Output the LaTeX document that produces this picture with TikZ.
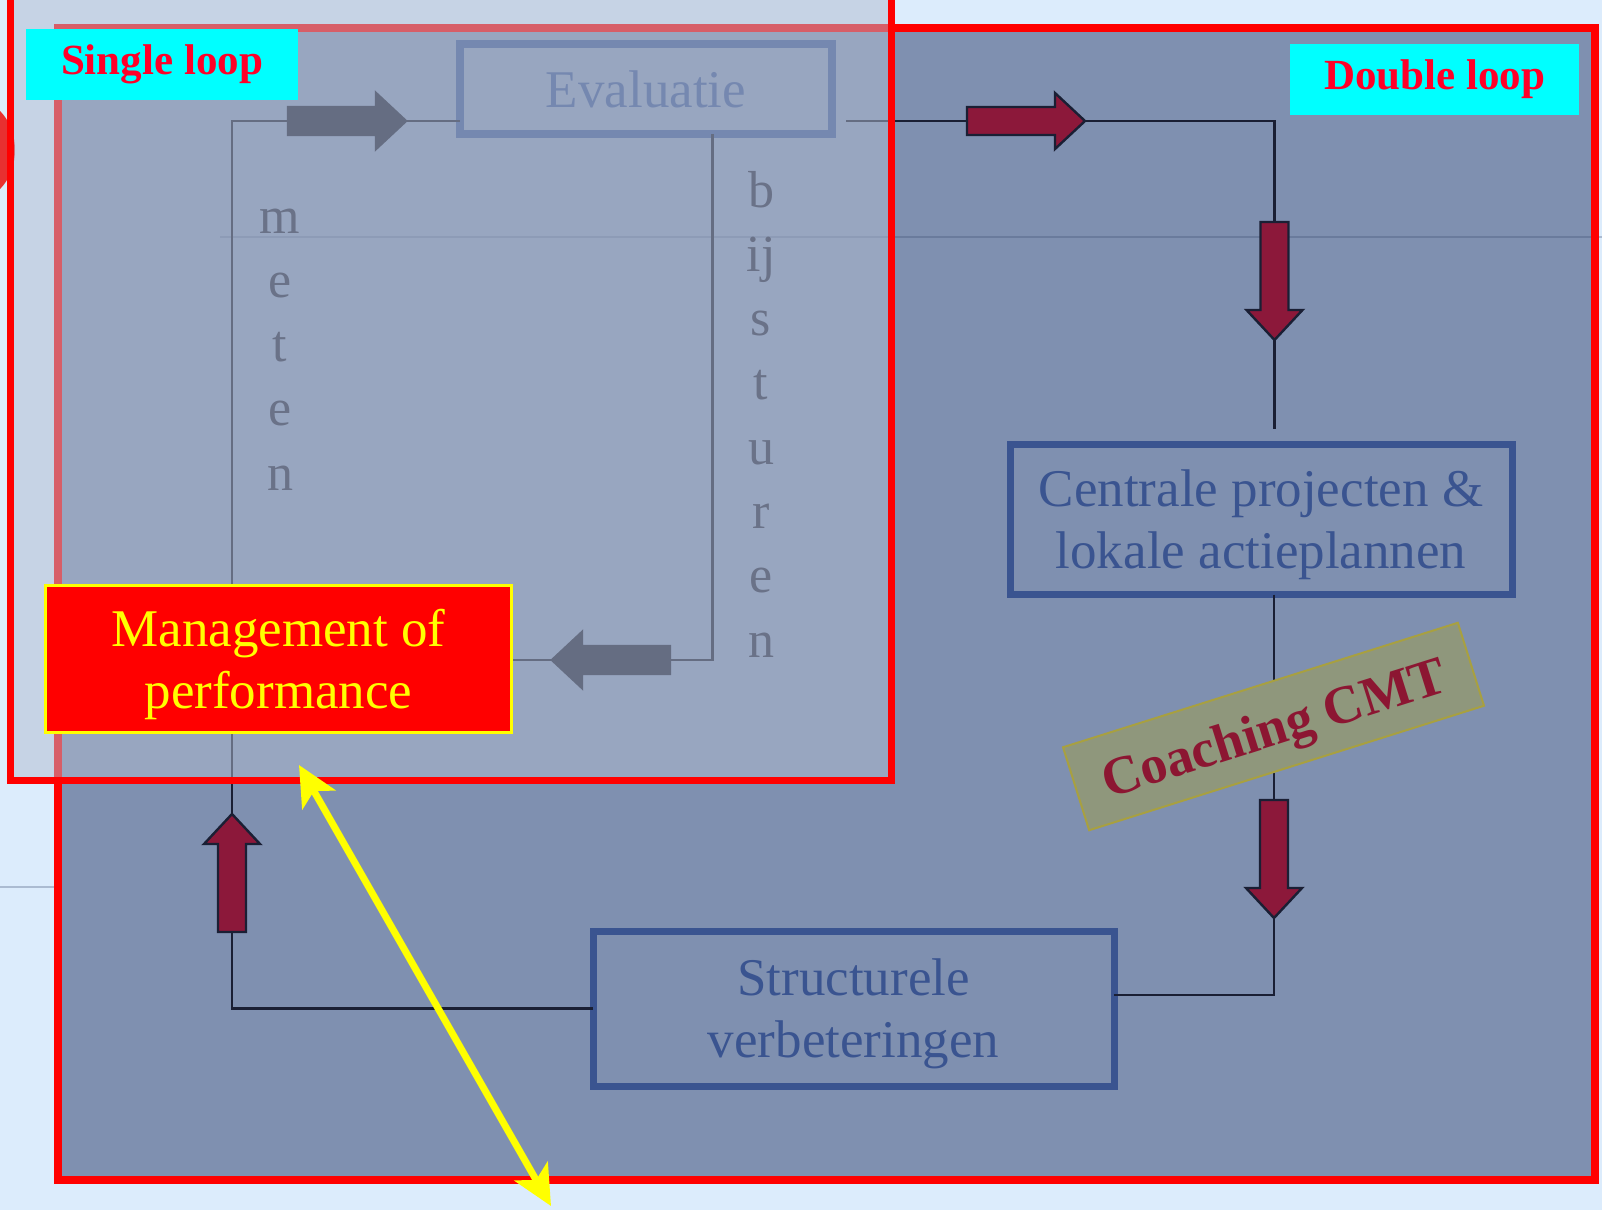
\documentclass[tikz,border=0pt]{standalone}
\usepackage{fontspec}
\setmainfont{Liberation Serif}
\usetikzlibrary{arrows.meta}

\definecolor{pagebg}{RGB}{220,236,252}
\definecolor{dloopbg}{RGB}{127,144,176}
\definecolor{sloopbg}{RGB}{177,188,208}
\definecolor{boxblue}{RGB}{58,84,144}
\definecolor{linenavy}{RGB}{26,31,52}
\definecolor{sidenavy}{RGB}{35,40,64}
\definecolor{arrred}{RGB}{140,24,58}
\definecolor{coachfill}{RGB}{143,151,124}
\definecolor{coachline}{RGB}{168,160,64}
\definecolor{coachtxt}{RGB}{140,22,50}
\definecolor{looptxt}{RGB}{255,0,40}
\definecolor{loopcyan}{RGB}{0,255,255}
\definecolor{mgmtred}{RGB}{255,0,0}
\definecolor{mgmtyellow}{RGB}{255,255,0}
\definecolor{blobred}{RGB}{232,48,48}
\definecolor{ghostgray}{RGB}{60,75,110}

\pgfdeclarelayer{back}
\pgfdeclarelayer{veil}
\pgfdeclarelayer{front}
\pgfsetlayers{back,main,veil,front}

\begin{document}
\begin{tikzpicture}[x=0.5pt,y=-0.5pt,
  boxtxt/.style={font=\fontsize{26.5pt}{31pt}\selectfont,align=center,text depth=0pt},
  stepbox/.style={draw=boxblue,line width=3.5pt,text=boxblue,inner sep=0pt,outer sep=0pt,boxtxt},
  mgmtbox/.style={fill=mgmtred,draw=mgmtyellow,text=mgmtyellow,line width=1.5pt,inner sep=0pt,outer sep=0pt,boxtxt},
  coachbox/.style={fill=coachfill,draw=coachline,text=coachtxt,line width=1pt,inner sep=0pt,
    text depth=0pt,font=\bfseries\fontsize{27pt}{31pt}\selectfont},
  loopbox/.style={fill=loopcyan,text=looptxt,inner sep=0pt,
    font=\bfseries\fontsize{21.5pt}{25pt}\selectfont},
  sidetxt/.style={text=sidenavy,inner sep=0pt,anchor=base,font=\fontsize{26pt}{30pt}\selectfont},
  ghost/.style={draw=ghostgray,draw opacity=0.3,line width=1pt},
  conn/.style={draw=linenavy,line width=1.2pt},
  redarr/.style={draw=linenavy,fill=arrred,line width=1.2pt},
  navyarr/.style={draw=linenavy,fill=linenavy,line width=1.2pt},
  blockarr/.pic={\path[#1] (0,-14) -- (88,-14) -- (88,-28) -- (118,0) -- (88,28) -- (88,14) -- (0,14) -- cycle;}
]
\useasboundingbox (0,0) rectangle (1602,1210);
\begin{pgfonlayer}{back}
  \fill[pagebg] (0,0) rectangle (1602,1210);
  \draw[ghost] (0,887) -- (58,887);
  \fill[dloopbg] (58,28) rectangle (1595,1180);
  \draw[ghost] (220,237) -- (1602,237);
  \draw[mgmtred,line width=4pt] (58,28) rectangle (1595,1180);
  \fill[blobred] (-25,150) ellipse [x radius=40,y radius=50];
\end{pgfonlayer}

\node[stepbox,line width=4pt,minimum width=186pt,minimum height=45pt] (eval) at (646,89) {Evaluatie};
\node[stepbox,minimum width=251pt,minimum height=75pt] (cpa) at (1261,519.5)
  {Centrale projecten \&\\lokale actieplannen};
\node[stepbox,minimum width=260.5pt,minimum height=77.5pt] (struct) at (853.5,1008.5)
  {Structurele\\verbeteringen};
\begin{pgfonlayer}{front}
  \node[mgmtbox,minimum width=233pt,minimum height=73.5pt] (mgmt) at (278.5,659)
    {Management of\\performance};
\end{pgfonlayer}

\coordinate (tl) at (232,121);
\coordinate (tr) at (1274.5,121);
\coordinate (br) at (712.5,660);
\coordinate (lr) at (1274,995);

\draw[conn] (struct.west) -| (tl) -- (tl -| eval.west);
\draw[conn] (br |- eval.south) -- (br) -- (br -| mgmt.east);
\draw[conn,shorten <=7pt,shorten >=7.75pt] (eval.east |- tr) -- (tr) -- (tr |- cpa.north);
\draw[conn] (cpa.south -| lr) -- (lr) -- (lr -| struct.east);

\pic at (288,121) {blockarr=navyarr};
\pic[rotate=180] at (670,660) {blockarr=navyarr};
\pic at (967,121) {blockarr=redarr};
\pic[rotate=-90] at (1274.5,222) {blockarr=redarr};
\pic[rotate=-90] at (1274,800) {blockarr=redarr};
\pic[rotate=90] at (232,932) {blockarr=redarr};

\node[coachbox,rotate=17.5,minimum width=207pt,minimum height=43.5pt] (coach) at (1273.5,726.5)
  {Coaching CMT};

\foreach \ltr [count=\i from 0] in {m,e,t,e,n}
  \node[sidetxt] (meten\i) at (280,{233+64.25*\i}) {\ltr};
\foreach \ltr [count=\i from 0] in {b,ij,s,t,u,r,e,n}
  \node[sidetxt] (bijst\i) at (761,{207+64.3*\i}) {\ltr};

\begin{pgfonlayer}{veil}
  \fill[sloopbg,fill opacity=0.5] (10,-20) rectangle (891,780);
\end{pgfonlayer}
\begin{pgfonlayer}{front}
  \draw[mgmtred,line width=3.5pt] (10,-20) rectangle (891,780);
  \node[loopbox,minimum width=136pt,minimum height=35.5pt] (single) at (162,64) {Single loop};
  \node[loopbox,minimum width=144.5pt,minimum height=35.5pt] (double) at (1434.5,79.5) {Double loop};
  \coordinate (ya) at (299,765);
  \coordinate (yb) at (551,1206);
  \draw[mgmtyellow,line width=3.5pt,{Stealth[length=20pt,width=19pt,inset=5pt]}-{Stealth[length=20pt,width=19pt,inset=5pt]}] (ya) -- (yb);
\end{pgfonlayer}
\end{tikzpicture}
\end{document}
